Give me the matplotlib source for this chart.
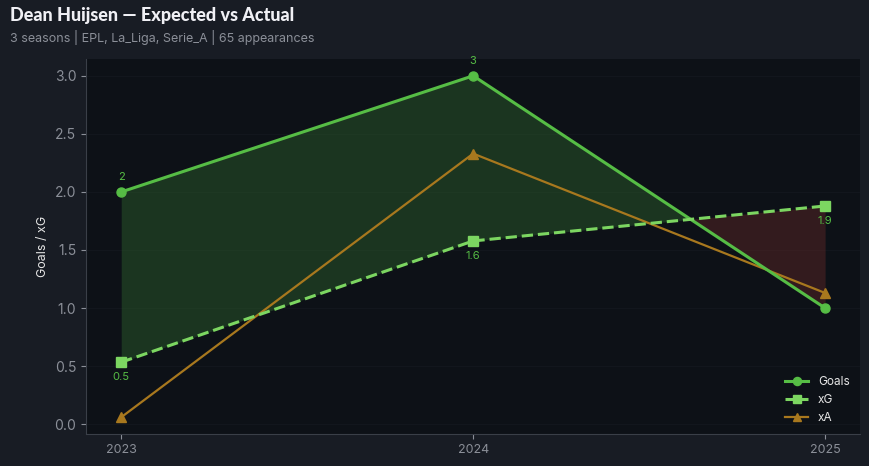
import numpy as np
import matplotlib.pyplot as plt

seasons = [2023, 2024, 2025]
goals = [2, 3, 1]
xg = [0.534, 1.578, 1.879]
xa = [0.06, 2.33, 1.13]
goal_labels = ["2", "3", ""]
xg_labels = ["0.5", "1.6", "1.9"]

plt.rcParams['font.family'] = ['Inter', 'DejaVu Sans']

fig = plt.figure(figsize=(8.69, 4.66), dpi=100)
fig.patch.set_facecolor('#181c24')
ax = fig.add_axes([0.099, 0.068, 0.891, 0.806])
ax.set_facecolor('#0d1117')

x = np.array(seasons, dtype=float)
g = np.array(goals, dtype=float)
e = np.array(xg, dtype=float)

ax.fill_between(x, g, e, where=g >= e, interpolate=True, color='#2a5a2a', alpha=0.5, lw=0)
ax.fill_between(x, g, e, where=g < e, interpolate=True, color='#5a2626', alpha=0.5, lw=0)

ax.plot(x, goals, color='#56bd45', lw=2.2, marker='o', ms=6.5, label='Goals', zorder=4)
ax.plot(x, xg, color='#7cd661', lw=2.2, ls='--', marker='s', ms=6.5, label='xG', zorder=4)
ax.plot(x, xa, color='#a8781e', lw=1.6, marker='^', ms=6.5, label='xA', zorder=3)

for xi, yi, t in zip(x, goals, goal_labels):
    if t:
        ax.annotate(t, (xi, yi), xytext=(0, 7), textcoords='offset points',
                    ha='center', va='bottom', color='#56bd45', fontsize=8)
for xi, yi, t in zip(x, xg, xg_labels):
    ax.annotate(t, (xi, yi), xytext=(0, -7), textcoords='offset points',
                ha='center', va='top', color='#56bd45', fontsize=8)

ax.set_xticks(seasons)
ax.set_xticklabels([str(s) for s in seasons])
ax.set_yticks([0, 0.5, 1.0, 1.5, 2.0, 2.5, 3.0])
ax.set_ylabel('Goals / xG', color='#e6e6e6', fontsize=9)
ax.tick_params(colors='#8b8f98', labelsize=10)
ax.tick_params(axis='x', labelsize=9)
for s in ['top', 'right']:
    ax.spines[s].set_visible(False)
for s in ['left', 'bottom']:
    ax.spines[s].set_color('#3a3f48')
ax.grid(True, axis='y', color='#12161d', lw=0.8)
ax.set_axisbelow(True)

leg = ax.legend(loc='lower right', frameon=False, fontsize=8.5, labelcolor='#e6e6e6',
                markerscale=0.9)

fig.text(0.012, 0.955, 'Dean Huijsen \u2014 Expected vs Actual', fontsize=13,
         fontweight='black', color='#f0f0f5', family=['Lato', 'DejaVu Sans'])
fig.text(0.012, 0.91, '3 seasons | EPL, La_Liga, Serie_A | 65 appearances',
         fontsize=9, color='#8b8f98')

fig.savefig('out.png', dpi=100, facecolor=fig.get_facecolor())
